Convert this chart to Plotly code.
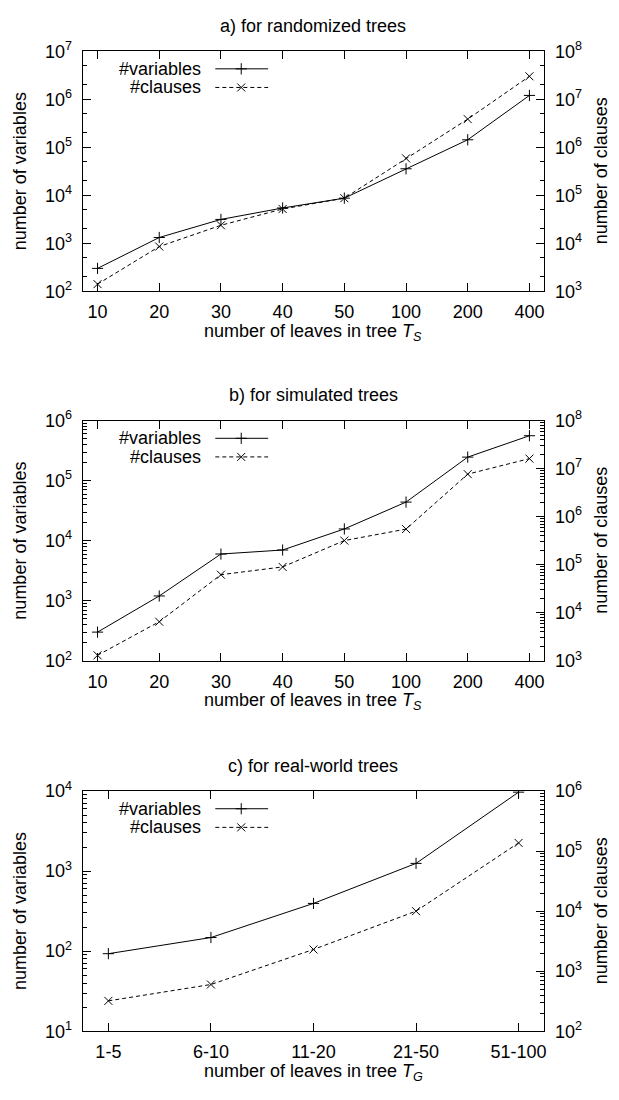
import plotly.graph_objects as go

W, H = 619, 1100
FONT = "Liberation Sans, Arial, Helvetica, sans-serif"

# ---------------- data ----------------
leaves_s = ["10", "20", "30", "40", "50", "100", "200", "400"]
leaves_g = ["1-5", "6-10", "11-20", "21-50", "51-100"]

rand_vars = [300, 1320, 3140, 5430, 8700, 35600, 143000, 1200000]
rand_clauses = [1410, 8550, 23700, 51800, 86900, 587000, 3850000, 30000000]

sim_vars = [300, 1200, 6000, 7000, 15700, 44000, 247000, 561000]
sim_clauses = [1300, 6500, 62000, 90000, 318000, 552000, 7700000, 16200000]

real_vars = [93, 148, 395, 1250, 9700]
real_clauses = [320, 600, 2300, 10000, 137000]

panel_titles = ["a) for randomized trees", "b) for simulated trees", "c) for real-world trees"]
x_titles = ["number of leaves in tree <i>T<sub>S</sub></i>",
            "number of leaves in tree <i>T<sub>S</sub></i>",
            "number of leaves in tree <i>T<sub>G</sub></i>"]
y_left_title = "number of variables"
y_right_title = "number of clauses"
legend_names = ["#variables", "#clauses"]

# ---------------- layout constants ----------------
LEFT, RIGHT = 83, 546
panels = [
    dict(cats=leaves_s, v=rand_vars, c=rand_clauses, yl=(2, 7), yr=(3, 8), top=40, bot=285, minor="D2"),
    dict(cats=leaves_s, v=sim_vars, c=sim_clauses, yl=(2, 6), yr=(3, 8), top=417, bot=662, minor="D1"),
    dict(cats=leaves_g, v=real_vars, c=real_clauses, yl=(1, 4), yr=(2, 6), top=795, bot=1040, minor="D1"),
]

fig = go.Figure()
layout = dict(
    width=W, height=H, margin=dict(l=0, r=0, t=0, b=0),
    paper_bgcolor="white", plot_bgcolor="rgba(0,0,0,0)", showlegend=False,
    font=dict(family=FONT, size=18, color="black"),
)
annotations = []

LINE = dict(color="black", width=1)
MSIZE = 8


def yaxis_common(lo, hi, minor):
    return dict(
        type="log", range=[lo, hi],
        tickvals=[10 ** p for p in range(lo, hi + 1)],
        ticktext=[f"10<sup>{p}</sup>" for p in range(lo, hi + 1)],
        showline=True, linecolor="black", linewidth=1.3,
        ticks="inside", ticklen=8, tickwidth=1, tickcolor="black",
        minor=dict(ticks="inside", ticklen=4, tickwidth=1, tickcolor="black", dtick=minor, showgrid=False),
        showgrid=False, zeroline=False,
        tickfont=dict(family=FONT, size=18, color="black"),
        ticklabelstandoff=6,
    )


for i, p in enumerate(panels):
    xk = "xaxis" if i == 0 else f"xaxis{i + 1}"
    xr = "x" if i == 0 else f"x{i + 1}"
    ylk = "yaxis" if i == 0 else f"yaxis{2 * i + 1}"
    ylr = "y" if i == 0 else f"y{2 * i + 1}"
    yrk = f"yaxis{2 * i + 2}"
    yrr = f"y{2 * i + 2}"
    n = len(p["cats"])
    ydom = [1 - p["bot"] / H, 1 - p["top"] / H]

    layout[xk] = dict(
        type="category", categoryorder="array", categoryarray=p["cats"],
        range=[-0.24 if n == 8 else -0.25, n - 1 + (0.24 if n == 8 else 0.25)],
        domain=[LEFT / W, RIGHT / W], anchor=ylr,
        showline=True, mirror="ticks", linecolor="black", linewidth=1.3,
        ticks="inside", ticklen=8, tickwidth=1, tickcolor="black",
        showgrid=False, zeroline=False,
        tickfont=dict(family=FONT, size=18, color="black"),
        ticklabelstandoff=4,
    )
    lo, hi = p["yl"]
    la = yaxis_common(lo, hi, p["minor"])
    la.update(domain=ydom, anchor=xr, side="left")
    layout[ylk] = la
    lo2, hi2 = p["yr"]
    ra = yaxis_common(lo2, hi2, p["minor"])
    ra.update(overlaying=ylr, anchor=xr, side="right")
    layout[yrk] = ra

    fig.add_trace(go.Scatter(
        x=p["cats"], y=p["v"], xaxis=xr, yaxis=ylr, mode="lines+markers",
        line=LINE, name=legend_names[0],
        marker=dict(symbol="cross-thin", size=MSIZE, line=dict(color="black", width=1), color="black"),
    ))
    fig.add_trace(go.Scatter(
        x=p["cats"], y=p["c"], xaxis=xr, yaxis=yrr, mode="lines+markers",
        line=dict(color="black", width=1, dash="4px,3px"), name=legend_names[1],
        marker=dict(symbol="x-thin", size=MSIZE, line=dict(color="black", width=1), color="black"),
    ))

    # panel title
    annotations.append(dict(text=panel_titles[i], x=(LEFT + RIGHT) / 2 / W, y=1 - (p["top"] - 26) / H,
                            xref="paper", yref="paper", showarrow=False, xanchor="center", yanchor="middle",
                            font=dict(family=FONT, size=18, color="black")))
    # x title
    annotations.append(dict(text=x_titles[i], x=(LEFT + RIGHT) / 2 / W, y=1 - (p["bot"] + 42) / H,
                            xref="paper", yref="paper", showarrow=False, xanchor="center", yanchor="middle",
                            font=dict(family=FONT, size=18, color="black")))
    # y titles
    ymid = 1 - (p["top"] + p["bot"]) / 2 / H
    annotations.append(dict(text=y_left_title, x=20 / W, y=ymid, textangle=-90,
                            xref="paper", yref="paper", showarrow=False, xanchor="center", yanchor="middle",
                            font=dict(family=FONT, size=18, color="black")))
    annotations.append(dict(text=y_right_title, x=603 / W, y=ymid, textangle=-90,
                            xref="paper", yref="paper", showarrow=False, xanchor="center", yanchor="middle",
                            font=dict(family=FONT, size=18, color="black")))

    # gnuplot-style legend (text, then sample)
    for k, (name, dash, sym) in enumerate([(legend_names[0], "solid", "cross-thin"),
                                           (legend_names[1], "4px,3px", "x-thin")]):
        row = p["top"] + 18 + 19 * k
        annotations.append(dict(text=name, x=204 / W, y=1 - row / H, xref="paper", yref="paper",
                                showarrow=False, xanchor="right", yanchor="middle",
                                font=dict(family=FONT, size=18, color="black")))
        fig.add_trace(go.Scatter(x=[216, 269], y=[row, row], xaxis="x4", yaxis="y7", mode="lines",
                                 line=dict(color="black", width=1, dash=dash), hoverinfo="skip"))
        fig.add_trace(go.Scatter(x=[242], y=[row], xaxis="x4", yaxis="y7", mode="markers",
                                 marker=dict(symbol=sym, size=MSIZE, line=dict(color="black", width=1)),
                                 hoverinfo="skip"))

layout["xaxis4"] = dict(domain=[0, 1], range=[0, W], visible=False, anchor="y7", fixedrange=True)
layout["yaxis7"] = dict(domain=[0, 1], range=[H, 0], visible=False, anchor="x4", fixedrange=True)
layout["annotations"] = annotations
fig.update_layout(**layout)

fig.write_html("out.html")
